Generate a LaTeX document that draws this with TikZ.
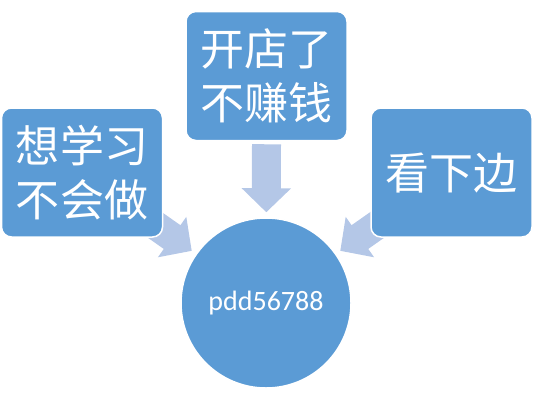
\documentclass[tikz,border=0pt]{standalone}
\usepackage{fontspec}
\usepackage{xcolor}
\setmainfont{Carlito}
\newfontfamily\cjk{Noto Sans CJK SC}
\definecolor{boxblue}{HTML}{5B9BD5}
\definecolor{flowblue}{HTML}{B4C7E7}
\usetikzlibrary{arrows.meta,backgrounds}

\begin{document}
\begin{tikzpicture}[x=1pt,y=-1pt,
  box/.style={rectangle,rounded corners=10pt,fill=boxblue,draw=white,line width=1.5pt,minimum width=161pt,minimum height=129pt,inner sep=0pt,text=white,align=center,font=\cjk\fontsize{44}{54}\selectfont},
  hub/.style={circle,fill=boxblue,draw=white,line width=1.5pt,minimum size=170pt,inner sep=0pt,text=white,font=\fontsize{28}{32}\selectfont},
  flow/.style={draw=flowblue,line width=29pt,-{Triangle[width=48pt,length=24pt]},shorten >=5pt}]
\useasboundingbox (0,0) rectangle (534,400);
\node[hub] (core) at (266,303) {pdd56788};
\node[box] (shop) at (266.5,76) {开店了\\不赚钱};
\node[box] (learn) at (82,172.5) {想学习\\不会做};
\node[box] (look) at (451.5,172.5) {看下边};
\coordinate (ls) at (135,211);
\coordinate (rs) at (397,211);
\begin{scope}[on background layer]
\draw[flow] ([yshift=-3pt]shop.south) -- (core);
\foreach \s in {ls,rs} {
   \draw[flow] (\s) -- (core);
}
\end{scope}
\end{tikzpicture}
\end{document}
